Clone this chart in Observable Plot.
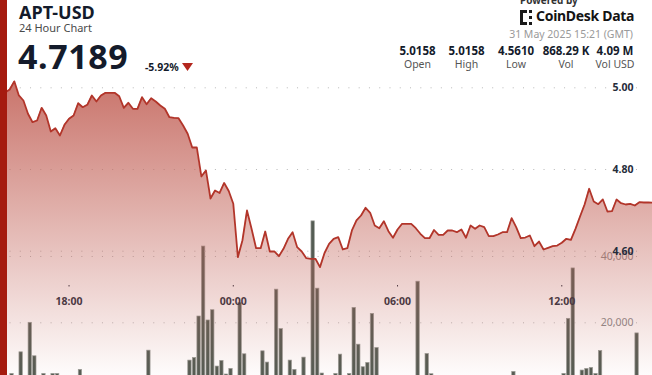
<!DOCTYPE html>
<html><head><meta charset="utf-8">
<script src="https://cdn.jsdelivr.net/npm/d3@7"></script>
<script src="https://cdn.jsdelivr.net/npm/@observablehq/plot@0.6"></script>
<style>
body{margin:0;background:#fff;font-family:"Noto Sans",sans-serif;}
#wrap{position:relative;width:652px;height:375px;overflow:hidden;background:#fff;}
#wrap svg{position:absolute;left:0;top:0;}
.abs{position:absolute;white-space:nowrap;line-height:1;}
</style></head><body><div id="wrap"></div>
<script>
// ---- data ----
const seriesStart = Date.UTC(2025, 4, 30, 15, 30); // first 10-minute point
const stepMs = 10 * 60 * 1000;
const windowStart = Date.UTC(2025, 4, 30, 15, 21);
const windowEnd = Date.UTC(2025, 4, 31, 15, 21);

const prices = [5.0158, 4.9885, 4.9958, 5.0158, 4.9812, 4.9689, 4.9364, 4.9158, 4.9200, 4.9510,
 4.9322, 4.8930, 4.9011, 4.8832, 4.9094, 4.9241, 4.9322, 4.9623, 4.9525, 4.9584,
 4.9812, 4.9665, 4.9812, 4.9878, 4.9878, 4.9878, 4.9794, 4.9510, 4.9633, 4.9486,
 4.9486, 4.9770, 4.9599, 4.9745, 4.9665, 4.9567, 4.9486, 4.9280, 4.9266, 4.9256,
 4.9077, 4.8874, 4.8539, 4.8539, 4.7829, 4.7976, 4.7290, 4.7486, 4.7425, 4.7670,
 4.7474, 4.7160, 4.5853, 4.6262, 4.6996, 4.6548, 4.6073, 4.6073, 4.6482, 4.5993,
 4.5993, 4.5878, 4.6059, 4.6304, 4.6465, 4.6098, 4.5993, 4.5829, 4.5814, 4.5814,
 4.5610, 4.5956, 4.6181, 4.6304, 4.6343, 4.6042, 4.6073, 4.6507, 4.6752, 4.6874,
 4.7062, 4.6940, 4.6629, 4.6563, 4.6734, 4.6490, 4.6328, 4.6531, 4.6671, 4.6671,
 4.6671, 4.6563, 4.6426, 4.6318, 4.6318, 4.6519, 4.6401, 4.6401, 4.6507, 4.6507,
 4.6465, 4.6531, 4.6328, 4.6629, 4.6548, 4.6629, 4.6588, 4.6367, 4.6367, 4.6409,
 4.6465, 4.6465, 4.6808, 4.6588, 4.6318, 4.6335, 4.6384, 4.6122, 4.6237, 4.6042,
 4.6083, 4.6122, 4.6139, 4.6206, 4.6304, 4.6279, 4.6548, 4.6849, 4.7143, 4.7528,
 4.7217, 4.7151, 4.7266, 4.6972, 4.6979, 4.7266, 4.7175, 4.7143, 4.7160, 4.7119,
 4.7200, 4.7192, 4.7192, 4.7189];

// volume bars (slot index on the 10-minute grid, volume)
const volSlots = [2,4,6,7,9,11,12,17,32,41,42,43,44,45,46,47,48,49,50,52,53,57,58,60,61,63,64,66,68,69,70,73,74,76,77,78,79,80,81,82,91,93,94,112,123,124,125,127,128,129,130,131,139];
const volValues = [4600,11100,20000,9900,4600,4600,4600,5800,11600,8600,9400,21900,43000,20700,23800,6800,8500,4400,6100,26000,10500,11400,8000,30000,18100,8600,5800,9500,50600,30300,4700,4600,10400,4600,24500,13400,6600,7900,22700,12400,32400,10600,4500,5200,4600,21200,36400,5600,6100,6400,4600,11500,16800];

const priceTicks = [4.6, 4.8, 5.0];
const volTicks = [20000, 40000];
const timeTicks = [Date.UTC(2025,4,30,18), Date.UTC(2025,4,31,0), Date.UTC(2025,4,31,6), Date.UTC(2025,4,31,12)];

const statValues = ["5.0158", "5.0158", "4.5610", "868.29 K", "4.09 M"];
const statLabels = ["Open", "High", "Low", "Vol", "Vol USD"];

// ---- tables ----
const priceData = prices.map((p, i) => ({t: new Date(seriesStart + i * stepMs), p}));
const volData = volSlots.map((s, i) => ({t1: new Date(seriesStart + s * stepMs), t2: new Date(seriesStart + (s + 1) * stepMs), v: volValues[i]}));

const W = 652, H = 375;
const xScale = {type: "utc", domain: [new Date(windowStart), new Date(windowEnd)], range: [-4, 653]};
const dots = "1,9.27";

const wrap = document.getElementById("wrap");

// volume layer (below)
const volPlot = Plot.plot({
  width: W, height: H, marginLeft: 9.5, marginRight: 15, marginTop: 0, marginBottom: 0,
  style: {background: "transparent", fontFamily: "Noto Sans", fontSize: "10.5px", overflow: "hidden"},
  x: {...xScale, axis: null},
  y: {domain: [0, 40000], range: [388.6, 256], axis: null},
  marks: [
    Plot.ruleY(volTicks, {stroke: "#b8b8b8", strokeDasharray: dots, strokeWidth: 1}),
    Plot.rectY(volData, {x1: "t1", x2: "t2", y: "v", fill: "#545c53", stroke: "#9c9e99", strokeWidth: 0.7, insetLeft: 0.6, insetRight: 0.6}),
    Plot.text(volTicks, {y: d => d, text: d => d3.format(",")(d), frameAnchor: "right", textAnchor: "end", dx: -4, fill: "#8a8a8a"})
  ]
});
wrap.appendChild(volPlot);

// price layer (above)
const pricePlot = Plot.plot({
  width: W, height: H, marginLeft: 9.5, marginRight: 15, marginTop: 0, marginBottom: 90,
  style: {background: "transparent", fontFamily: "Noto Sans", fontSize: "10.5px", fontWeight: "bold", color: "#252c3a", overflow: "hidden"},
  x: {...xScale, ticks: timeTicks.map(d => new Date(d)), tickFormat: d3.utcFormat("%H:%M"), tickSize: 1.5, tickPadding: 11, label: null},
  y: {domain: [4.6, 5.0], range: [250.7, 87.3], axis: null},
  marks: [
    Plot.ruleY(priceTicks, {stroke: "#b8b8b8", strokeDasharray: dots, strokeWidth: 1}),
    Plot.areaY(priceData, {x: "t", y1: () => 4.25, y2: "p", fill: "url(#aptGrad)"}),
    Plot.lineY(priceData, {x: "t", y: "p", stroke: "#b2352a", strokeWidth: 1.8}),
    Plot.text(priceTicks, {y: d => d, text: d => d.toFixed(2), frameAnchor: "right", textAnchor: "end", dx: -4, fill: "#252c3a"})
  ]
});
const defs = d3.select(pricePlot).insert("defs", ":first-child");
const grad = defs.append("linearGradient").attr("id", "aptGrad").attr("gradientUnits", "userSpaceOnUse")
  .attr("x1", 0).attr("x2", 0).attr("y1", 80).attr("y2", 375);
grad.append("stop").attr("offset", 0).attr("stop-color", "rgb(195,100,90)").attr("stop-opacity", 0.9);
grad.append("stop").attr("offset", 1).attr("stop-color", "rgb(195,100,90)").attr("stop-opacity", 0.02);
wrap.appendChild(pricePlot);

// header / overlays
function addDiv(html, css) {
  const d = document.createElement("div");
  d.className = "abs";
  d.innerHTML = html;
  Object.assign(d.style, css);
  wrap.appendChild(d);
  return d;
}
addDiv("", {left: "0px", top: "0px", width: "7px", height: H + "px", background: "#a51b0f"});
addDiv("APT-USD", {left: "19px", top: "2.5px", fontSize: "18px", fontWeight: "bold", color: "#141b2b"});
addDiv("24 Hour Chart", {left: "19px", top: "22px", fontSize: "11px", color: "#4a4a4a"});
addDiv("4.7189", {left: "18px", top: "38.5px", fontSize: "34px", fontWeight: "bold", letterSpacing: "0.6px", color: "#141b2b"});
addDiv("-5.92%", {left: "145px", top: "61.5px", fontSize: "10.5px", fontWeight: "bold", color: "#141b2b"});
addDiv('<svg width="11" height="8"><polygon points="0,0 11,0 5.5,8" fill="#b3261e"/></svg>', {left: "182px", top: "63.3px"});

addDiv("Powered by", {left: "520px", top: "-5px", fontSize: "10px", fontWeight: "bold", color: "#333"});
addDiv('<svg width="14" height="15"><g fill="#1a1a1a"><rect x="0" y="0" width="3" height="15"/><rect x="3" y="0" width="4" height="3"/><rect x="3" y="12" width="4" height="3"/><rect x="9" y="0" width="3" height="3"/><rect x="9" y="6" width="3" height="3"/><rect x="9" y="12" width="3" height="3"/></g></svg>', {left: "520px", top: "10px"});
addDiv("CoinDesk Data", {left: "536px", top: "9px", fontSize: "14px", fontWeight: "bold", color: "#141414", letterSpacing: "-0.3px"});
addDiv("31 May 2025 15:21 (GMT)", {right: "19px", top: "28.7px", fontSize: "10.5px", color: "#9a9a9a"});

const statCenters = [417.5, 466.5, 516, 566, 615];
statValues.forEach((v, i) => addDiv(v, {left: (statCenters[i] - 40) + "px", width: "80px", textAlign: "center", top: "44.8px", fontSize: "11.5px", fontWeight: "bold", color: "#141b2b"}));
statLabels.forEach((v, i) => addDiv(v, {left: (statCenters[i] - 40) + "px", width: "80px", textAlign: "center", top: "59.2px", fontSize: "10.5px", color: "#555"}));
</script></body></html>
